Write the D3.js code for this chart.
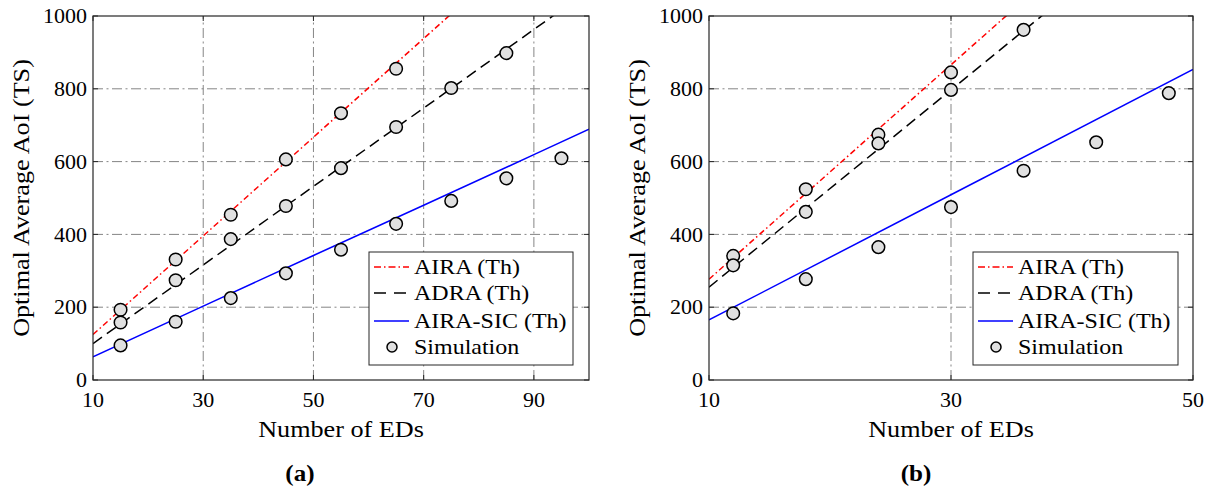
<!DOCTYPE html>
<html>
<head>
<meta charset="utf-8">
<script src="https://cdn.jsdelivr.net/npm/d3@7"></script>
<style>
  html, body { margin: 0; padding: 0; background: #fff; }
  svg { display: block; }
</style>
</head>
<body>
<svg id="fig" width="1215" height="492" font-family="'Liberation Serif', 'DejaVu Serif', serif"></svg>
<script>
// ---- Panel (a): AoI vs number of EDs, x in [10, 100] ----
const xTicksA = [10, 30, 50, 70, 90];
const yTicks = [0, 200, 400, 600, 800, 1000];

// theoretical curves (Th), panel (a)
const thA_x    = [10, 30, 50, 70, 90, 100];
const thA_AIRA = [125, 396, 667, 938, 1209, 1345];
const thA_ADRA = [100, 316, 532, 747, 963, 1071];
const thA_SIC  = [64, 203, 342, 480, 619, 689];

// simulation points, panel (a)
const simA_AIRA_x = [15, 25, 35, 45, 55, 65];
const simA_AIRA   = [193, 331, 454, 606, 733, 855];
const simA_ADRA_x = [15, 25, 35, 45, 55, 65, 75, 85];
const simA_ADRA   = [158, 274, 387, 478, 582, 695, 802, 898];
const simA_SIC_x  = [15, 25, 35, 45, 55, 65, 75, 85, 95];
const simA_SIC    = [95, 160, 225, 293, 358, 429, 492, 554, 609];

// ---- Panel (b): AoI vs number of EDs, x in [10, 50] ----
const xTicksB = [10, 30, 50];

const thB_x    = [10, 30, 50];
const thB_AIRA = [277, 866, 1455];
const thB_ADRA = [255, 797, 1339];
const thB_SIC  = [165, 509, 853];

const simB_AIRA_x = [12, 18, 24, 30];
const simB_AIRA   = [341, 524, 674, 845];
const simB_ADRA_x = [12, 18, 24, 30, 36];
const simB_ADRA   = [315, 462, 650, 797, 962];
const simB_SIC_x  = [12, 18, 24, 30, 36, 42, 48];
const simB_SIC    = [183, 277, 365, 475, 575, 653, 788];

const legendLabels = ["AIRA (Th)", "ADRA (Th)", "AIRA-SIC (Th)", "Simulation"];
const seriesStyles = [
  { color: "#ff0000", dash: "6,3,1.5,3", legendDash: "7,3,1.5,3" },
  { color: "#000000", dash: "11,6",      legendDash: "12,8" },
  { color: "#0000ff", dash: null,        legendDash: null }
];

const svg = d3.select("#fig");
const frameColor = "#262626";
const gridColor = "#858585";
const serif = "'Liberation Serif', 'DejaVu Serif', serif";

function zip(xs, ys) { return xs.map((x, i) => [x, ys[i]]); }

function txt(sel) {
  return sel.append("text").attr("font-family", serif).attr("fill", "#000");
}

function drawPanel(cfg) {
  const { left, right, top, bottom, xDomain, xTicks, theoryX, theory, sims, legend, caption, id } = cfg;
  const x = d3.scaleLinear().domain(xDomain).range([left, right]);
  const y = d3.scaleLinear().domain([0, 1000]).range([bottom, top]);
  const g = svg.append("g");

  g.append("defs").append("clipPath").attr("id", "clip-" + id)
    .append("rect").attr("x", left).attr("y", top)
    .attr("width", right - left).attr("height", bottom - top);

  // grid
  const grid = g.append("g").attr("stroke", gridColor).attr("stroke-width", 1)
    .attr("stroke-dasharray", "10,3.5,2,3.5").attr("fill", "none");
  xTicks.filter(t => t > xDomain[0] && t < xDomain[1]).forEach(t => {
    grid.append("line").attr("x1", x(t)).attr("x2", x(t)).attr("y1", bottom).attr("y2", top);
  });
  yTicks.filter(t => t > 0 && t < 1000).forEach(t => {
    grid.append("line").attr("y1", y(t)).attr("y2", y(t)).attr("x1", left).attr("x2", right);
  });

  // theoretical lines
  const line = d3.line().x(d => x(d[0])).y(d => y(d[1]));
  const lines = g.append("g").attr("clip-path", "url(#clip-" + id + ")");
  theory.forEach((vals, i) => {
    const st = seriesStyles[i];
    lines.append("path").datum(zip(theoryX, vals))
      .attr("d", line).attr("fill", "none")
      .attr("stroke", st.color).attr("stroke-width", 1.5)
      .attr("stroke-dasharray", st.dash);
  });

  // simulation markers
  const marks = g.append("g");
  sims.forEach(s => {
    marks.selectAll(null).data(zip(s.x, s.y)).enter().append("circle")
      .attr("cx", d => x(d[0])).attr("cy", d => y(d[1])).attr("r", 6.3)
      .attr("fill", "#e0e0e0").attr("stroke", "#000").attr("stroke-width", 1.5);
  });

  // frame + inward ticks
  g.append("rect").attr("x", left).attr("y", top)
    .attr("width", right - left).attr("height", bottom - top)
    .attr("fill", "none").attr("stroke", frameColor).attr("stroke-width", 1.2);
  const tk = g.append("g").attr("stroke", frameColor).attr("stroke-width", 1);
  xTicks.forEach(t => {
    tk.append("line").attr("x1", x(t)).attr("x2", x(t)).attr("y1", bottom).attr("y2", bottom - 5);
    tk.append("line").attr("x1", x(t)).attr("x2", x(t)).attr("y1", top).attr("y2", top + 5);
  });
  yTicks.forEach(t => {
    tk.append("line").attr("x1", left).attr("x2", left + 5).attr("y1", y(t)).attr("y2", y(t));
    tk.append("line").attr("x1", right).attr("x2", right - 5).attr("y1", y(t)).attr("y2", y(t));
  });

  // tick labels
  xTicks.forEach(t => {
    txt(g).attr("x", x(t)).attr("y", bottom + 27)
      .attr("text-anchor", "middle").attr("font-size", 22).text(t);
  });
  yTicks.forEach(t => {
    txt(g).attr("x", left - 6).attr("y", y(t)).attr("dy", "0.33em")
      .attr("text-anchor", "end").attr("font-size", 22).text(t);
  });

  // axis labels
  txt(g).attr("class", "wide")
    .attr("x", (left + right) / 2).attr("y", bottom + 57)
    .attr("text-anchor", "middle").attr("font-size", 24).text("Number of EDs");
  txt(g).attr("class", "wide")
    .attr("transform", `translate(${left - 64},${(top + bottom) / 2}) rotate(-90)`)
    .attr("text-anchor", "middle").attr("font-size", 24).text("Optimal Average AoI (TS)");

  // caption
  txt(g).attr("class", "wide").attr("x", caption.x).attr("y", 481)
    .attr("text-anchor", "middle").attr("font-size", 23).attr("font-weight", "bold")
    .text(caption.text);

  // legend
  const lg = g.append("g");
  lg.append("rect").attr("x", legend.x).attr("y", legend.y)
    .attr("width", legend.w).attr("height", legend.h)
    .attr("fill", "#fff").attr("stroke", frameColor).attr("stroke-width", 1);
  const rowY = [15, 41, 69, 95];
  legendLabels.forEach((lab, i) => {
    const cy = legend.y + rowY[i];
    if (i < 3) {
      const st = seriesStyles[i];
      lg.append("line").attr("x1", legend.x + 5).attr("x2", legend.x + 40)
        .attr("y1", cy).attr("y2", cy).attr("stroke", st.color)
        .attr("stroke-width", 1.5).attr("stroke-dasharray", st.legendDash);
    } else {
      lg.append("circle").attr("cx", legend.x + 23).attr("cy", cy).attr("r", 5)
        .attr("fill", "#e0e0e0").attr("stroke", "#000").attr("stroke-width", 1.5);
    }
    txt(lg).attr("class", "wide").attr("x", legend.x + 45).attr("y", cy).attr("dy", "0.34em")
      .attr("font-size", 22).text(lab);
  });
}

drawPanel({
  id: "a", left: 93, right: 589, top: 16, bottom: 380,
  xDomain: [10, 100], xTicks: xTicksA,
  theoryX: thA_x, theory: [thA_AIRA, thA_ADRA, thA_SIC],
  sims: [
    { x: simA_AIRA_x, y: simA_AIRA },
    { x: simA_ADRA_x, y: simA_ADRA },
    { x: simA_SIC_x, y: simA_SIC }
  ],
  legend: { x: 369, y: 252, w: 204, h: 113 },
  caption: { x: 300, text: "(a)" }
});

drawPanel({
  id: "b", left: 709, right: 1193, top: 16, bottom: 380,
  xDomain: [10, 50], xTicks: xTicksB,
  theoryX: thB_x, theory: [thB_AIRA, thB_ADRA, thB_SIC],
  sims: [
    { x: simB_AIRA_x, y: simB_AIRA },
    { x: simB_ADRA_x, y: simB_ADRA },
    { x: simB_SIC_x, y: simB_SIC }
  ],
  legend: { x: 973, y: 252, w: 205, h: 113 },
  caption: { x: 916, text: "(b)" }
});

// widen serif labels slightly toward Computer Modern proportions
svg.selectAll("text.wide").each(function () {
  const len = this.getComputedTextLength();
  d3.select(this).attr("textLength", len * 1.09).attr("lengthAdjust", "spacingAndGlyphs");
});
</script>
</body>
</html>
